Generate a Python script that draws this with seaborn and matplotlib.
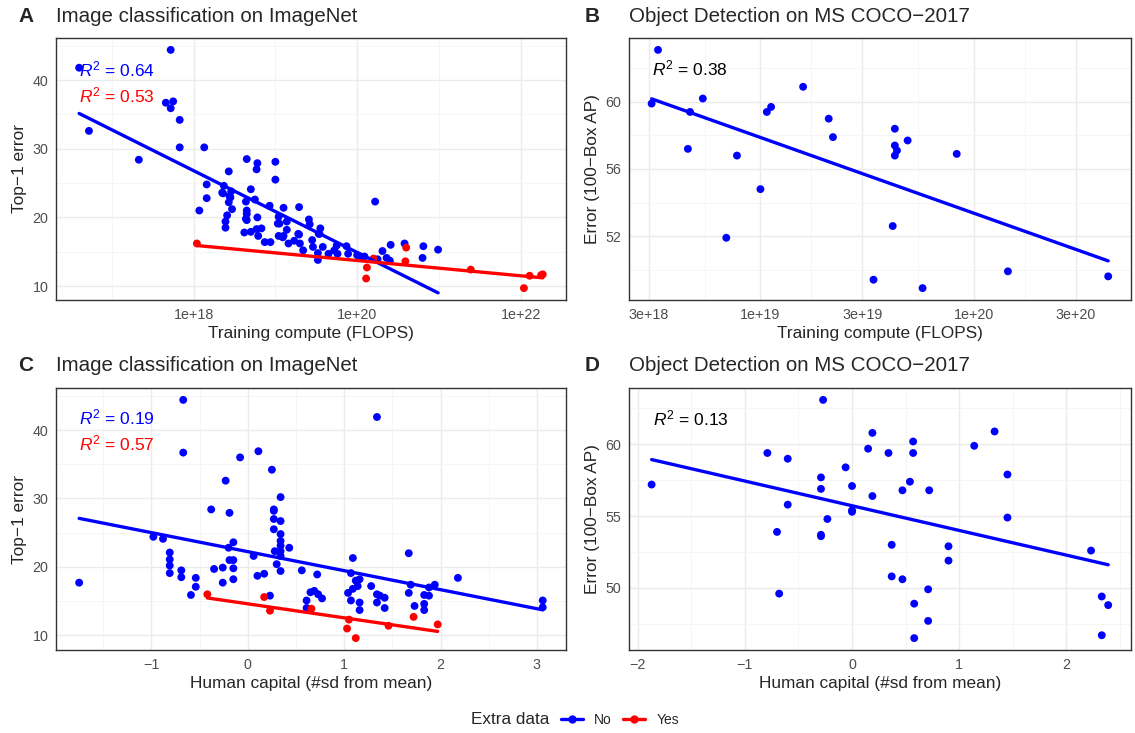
import numpy as np
import pandas as pd
import matplotlib
matplotlib.use("Agg")
import matplotlib.pyplot as plt
from matplotlib.lines import Line2D
from matplotlib.ticker import FixedLocator, FuncFormatter, NullFormatter
import seaborn as sns

# Panel A: ImageNet, log10(training compute) vs top-1 error
a_no_logc = [16.60, 17.72, 16.72, 17.33, 17.66, 17.75, 17.72, 17.83, 17.83, 18.13,
             18.16, 18.16, 18.07, 18.43, 18.37, 18.35, 18.46, 18.44, 18.43, 18.47,
             18.41, 18.39, 18.39, 18.65, 18.78, 18.77, 18.70, 18.64, 18.75, 18.65,
             18.65, 18.64, 18.78, 18.62, 18.70, 18.77, 18.83, 18.79, 18.87, 18.94,
             18.93, 19.00, 19.00, 19.10, 19.04, 19.03, 19.14, 19.04, 19.10, 19.14,
             19.16, 19.23, 19.29, 19.29, 19.30, 19.34, 19.41, 19.42, 19.45, 19.46,
             19.53, 19.55, 19.52, 19.52, 19.58, 19.65, 19.72, 19.75, 19.76, 19.87,
             19.89, 20.04, 20.09, 20.22, 20.25, 20.31, 20.36, 20.40, 20.41, 20.58,
             20.80, 20.81, 20.99,
             18.36, 18.45, 18.65, 19.09, 19.28, 19.54, 19.05, 20.00]
a_no_err = [41.8, 44.4, 32.6, 28.4, 36.7, 36.9, 35.9, 34.2, 30.2, 30.2,
            24.8, 22.8, 21.0, 26.7, 24.6, 23.6, 23.8, 23.1, 22.2, 21.2,
            20.3, 19.4, 18.5, 28.5, 27.9, 27.0, 24.1, 22.3, 22.6, 21.0,
            20.5, 19.8, 20.0, 17.8, 17.9, 18.3, 18.4, 17.3, 16.4, 16.4,
            21.7, 28.1, 25.5, 21.4, 20.1, 19.1, 19.4, 17.3, 17.3, 18.2,
            16.2, 16.6, 21.5, 17.5, 16.2, 15.2, 19.7, 19.0, 16.7, 15.7,
            17.6, 18.4, 14.8, 13.8, 15.7, 14.7, 15.2, 15.9, 14.7, 15.8,
            14.7, 14.3, 14.3, 22.3, 13.9, 15.1, 14.1, 13.7, 16.0, 16.2,
            14.1, 15.8, 15.3,
            23.5, 22.9, 19.6, 17.1, 17.6, 17.6, 19.1, 14.5]
a_yes_logc = [18.04, 20.12, 20.11, 20.20, 20.60, 20.59, 21.39, 22.04, 22.11, 22.25, 22.27]
a_yes_err = [16.2, 12.7, 11.1, 14.0, 15.6, 13.6, 12.4, 9.7, 11.5, 11.6, 11.7]

# Panel B: COCO, log10(training compute) vs error
b_logc = [18.52, 18.49, 18.67, 18.66, 18.73, 18.89, 18.84, 19.00, 19.03, 19.05, 19.20, 19.32,
          19.34, 19.53, 19.62, 19.63, 19.63, 19.64, 19.63, 19.69, 19.76, 19.92, 20.16, 20.63]
b_err = [63.1, 59.9, 59.4, 57.2, 60.2, 56.8, 51.9, 54.8, 59.4, 59.7, 60.9, 59.0,
         57.9, 49.4, 52.6, 58.4, 57.4, 57.1, 56.8, 57.7, 48.9, 56.9, 49.9, 49.6]

# Panel C: ImageNet, human capital vs top-1 error
c_no_hc = [-1.75, -0.98, -0.88, -0.81, -0.81, -0.81, -0.81, -0.69, -0.69, -0.67,
           -0.67, -0.59, -0.54, -0.54, -0.38, -0.35, -0.26, -0.26, -0.23, -0.20,
           -0.19, -0.19, -0.15, -0.15, -0.15, -0.15, -0.08, 0.06, 0.10, 0.11,
           0.17, 0.23, 0.25, 0.27, 0.27, 0.27, 0.27, 0.28, 0.30, 0.34,
           0.34, 0.34, 0.34, 0.34, 0.34, 0.34, 0.34, 0.43, 0.56, 0.61,
           0.61, 0.65, 0.69, 0.72, 0.73, 0.77, 1.04, 1.07, 1.07, 1.09,
           1.09, 1.12, 1.14, 1.16, 1.16, 1.16, 1.28, 1.34, 1.34, 1.34,
           1.37, 1.42, 1.42, 1.67, 1.67, 1.69, 1.73, 1.83, 1.83, 1.83,
           1.88, 1.88, 1.94, 2.18, 3.06, 3.06]
c_no_err = [17.7, 24.4, 24.1, 22.1, 21.1, 20.2, 19.1, 19.5, 18.5, 44.4,
            36.7, 15.9, 18.4, 17.1, 28.4, 19.7, 19.9, 17.7, 32.6, 22.8,
            27.9, 21.0, 23.6, 21.0, 19.8, 18.2, 36.0, 21.6, 18.7, 36.9,
            19.0, 15.8, 34.2, 28.4, 28.2, 27.0, 25.5, 22.3, 20.4, 30.2,
            26.7, 24.8, 23.8, 23.1, 22.3, 21.6, 19.4, 22.8, 19.5, 15.1,
            14.0, 16.3, 16.5, 18.9, 16.0, 15.4, 16.2, 19.1, 15.1, 21.3,
            16.8, 18.0, 17.2, 18.2, 14.8, 13.7, 17.2, 41.9, 16.0, 14.8,
            15.8, 15.5, 14.0, 22.0, 16.2, 17.4, 14.3, 15.9, 14.6, 13.7,
            15.8, 17.0, 17.4, 18.4, 15.1, 14.1]
c_yes_hc = [-0.42, 0.17, 0.23, 0.66, 1.03, 1.05, 1.12, 1.46, 1.72, 1.97]
c_yes_err = [16.0, 15.6, 13.6, 13.9, 11.0, 12.3, 9.6, 11.4, 12.7, 11.6]

# Panel D: COCO, human capital vs error
d_hc = [-1.87, -0.27, -0.79, -0.60, -0.60, -0.70, -0.68, -0.29, -0.29, -0.23,
        -0.29, -0.29, -0.06, 0.00, 0.00, 0.00, 0.15, 0.19, 0.19, 0.34,
        0.37, 0.37, 0.47, 0.47, 0.54, 0.57, 0.57, 0.58, 0.58, 0.72,
        0.71, 0.71, 0.90, 0.90, 1.14, 1.33, 1.45, 1.45, 2.23, 2.33,
        2.39, 2.33]
d_err = [57.2, 63.1, 59.4, 59.0, 55.8, 53.9, 49.6, 57.7, 56.9, 54.8,
         53.7, 53.6, 58.4, 57.1, 55.4, 55.3, 59.7, 60.8, 56.4, 59.4,
         53.0, 50.8, 56.8, 50.6, 57.4, 60.2, 59.4, 48.9, 46.5, 56.8,
         49.9, 47.7, 52.9, 51.9, 59.9, 60.9, 57.9, 54.9, 52.6, 49.4,
         48.8, 46.7]

r2_a = ["0.64", "0.53"]
r2_b = ["0.38"]
r2_c = ["0.19", "0.57"]
r2_d = ["0.13"]

pal = {"No": "#0000FF", "Yes": "#FF0000"}


def frame(x_no, y_no, x_yes=None, y_yes=None):
    df = pd.DataFrame({"x": x_no, "y": y_no, "extra": "No"})
    if x_yes is not None:
        df = pd.concat([df, pd.DataFrame({"x": x_yes, "y": y_yes, "extra": "Yes"})])
    return df.reset_index(drop=True)


df_a = frame(10.0 ** np.array(a_no_logc), a_no_err, 10.0 ** np.array(a_yes_logc), a_yes_err)
df_b = frame(10.0 ** np.array(b_logc), b_err)
df_c = frame(c_no_hc, c_no_err, c_yes_hc, c_yes_err)
df_d = frame(d_hc, d_err)

sns.set_style("white")
plt.rcParams["font.family"] = ["Liberation Sans", "DejaVu Sans"]
plt.rcParams["mathtext.fontset"] = "custom"
plt.rcParams["mathtext.rm"] = "Liberation Sans"
plt.rcParams["mathtext.it"] = "Liberation Sans:italic"

fig = plt.figure(figsize=(11.35, 7.33), dpi=100)
ax_a = fig.add_axes([0.0493, 0.5907, 0.4493, 0.3575])
ax_b = fig.add_axes([0.5540, 0.5907, 0.4425, 0.3575])
ax_c = fig.add_axes([0.0493, 0.1132, 0.4493, 0.3575])
ax_d = fig.add_axes([0.5540, 0.1132, 0.4425, 0.3575])


def expand(v, logx=False):
    v = np.log10(v) if logx else np.asarray(v, dtype=float)
    lo, hi = v.min(), v.max()
    pad = (hi - lo) * 0.05
    lo, hi = lo - pad, hi + pad
    return (10 ** lo, 10 ** hi) if logx else (lo, hi)


def draw(ax, df, logx):
    if logx:
        ax.set_xscale("log")
    sns.scatterplot(data=df, x="x", y="y", hue="extra", palette=pal, s=32,
                    edgecolor="none", legend=False, ax=ax, zorder=3)
    for lvl, sub in df.groupby("extra"):
        sns.regplot(data=sub, x="x", y="y", scatter=False, ci=None, logx=logx,
                    color=pal[lvl], line_kws={"lw": 2.4, "zorder": 4}, ax=ax)
    ax.set_xlim(expand(df["x"], logx))
    ax.set_ylim(expand(df["y"]))


def style(ax, xmaj, xmin, ymaj, ymin, xlabel, ylabel, xfmt=None):
    ax.xaxis.set_major_locator(FixedLocator(xmaj))
    ax.xaxis.set_minor_locator(FixedLocator(xmin))
    ax.yaxis.set_major_locator(FixedLocator(ymaj))
    ax.yaxis.set_minor_locator(FixedLocator(ymin))
    if xfmt is not None:
        ax.xaxis.set_major_formatter(xfmt)
    ax.xaxis.set_minor_formatter(NullFormatter())
    ax.yaxis.set_major_formatter(FuncFormatter(lambda v, p: f"{v:g}"))
    ax.grid(True, which="major", color="#EBEBEB", lw=1.0, zorder=0)
    ax.grid(True, which="minor", color="#F4F4F4", lw=0.6, zorder=0)
    ax.set_axisbelow(True)
    ax.tick_params(which="major", length=3.5, width=0.8, color="#333333",
                   labelsize=10.3, labelcolor="#4D4D4D", pad=2)
    ax.tick_params(which="minor", length=0)
    for sp in ax.spines.values():
        sp.set_color("#333333")
        sp.set_linewidth(1.0)
    ax.set_xlabel(xlabel, fontsize=12.4, labelpad=3)
    ax.set_ylabel(ylabel, fontsize=12.4, labelpad=4)


sci = FuncFormatter(lambda v, p: f"{v:.0e}")

draw(ax_a, df_a, True)
style(ax_a, [1e18, 1e20, 1e22], [1e17, 1e19, 1e21], [10, 20, 30, 40], [15, 25, 35, 45],
      "Training compute (FLOPS)", "Top\u22121 error", sci)

draw(ax_b, df_b, True)
b_major = [3e18, 1e19, 3e19, 1e20, 3e20]
b_minor = list(np.sqrt(np.array(b_major[:-1]) * np.array(b_major[1:])))
style(ax_b, b_major, b_minor, [52, 56, 60], [50, 54, 58, 62],
      "Training compute (FLOPS)", "Error (100\u2212Box AP)", sci)

draw(ax_c, df_c, False)
style(ax_c, [-1, 0, 1, 2, 3], [-1.5, -0.5, 0.5, 1.5, 2.5], [10, 20, 30, 40], [15, 25, 35, 45],
      "Human capital (#sd from mean)", "Top\u22121 error")

draw(ax_d, df_d, False)
style(ax_d, [-2, -1, 0, 1, 2], [-1.5, -0.5, 0.5, 1.5, 2.5], [50, 55, 60], [47.5, 52.5, 57.5, 62.5],
      "Human capital (#sd from mean)", "Error (100\u2212Box AP)")

# R^2 annotations
ax_a.text(10 ** 16.6, 41.6, f"$R^2$ = {r2_a[0]}", color=pal["No"], fontsize=12.5, va="center", zorder=5)
ax_a.text(10 ** 16.6, 37.8, f"$R^2$ = {r2_a[1]}", color=pal["Yes"], fontsize=12.5, va="center", zorder=5)
ax_b.text(10 ** 18.49, 62.0, f"$R^2$ = {r2_b[0]}", color="black", fontsize=12.5, va="center")
ax_c.text(-1.75, 41.8, f"$R^2$ = {r2_c[0]}", color=pal["No"], fontsize=12.5, va="center")
ax_c.text(-1.75, 38.0, f"$R^2$ = {r2_c[1]}", color=pal["Yes"], fontsize=12.5, va="center")
ax_d.text(-1.86, 61.8, f"$R^2$ = {r2_d[0]}", color="black", fontsize=12.5, va="center")

# panel tags and titles
titles = [("A", "Image classification on ImageNet", 0.016, 0.0493, 0.977),
          ("B", "Object Detection on MS COCO\u22122017", 0.515, 0.5540, 0.977),
          ("C", "Image classification on ImageNet", 0.016, 0.0493, 0.501),
          ("D", "Object Detection on MS COCO\u22122017", 0.515, 0.5540, 0.501)]
for tag, title, tx, x, y in titles:
    fig.text(tx, y, tag, fontsize=15, fontweight="bold", va="center")
    fig.text(x, y, title, fontsize=14.8, va="center")

# legend at bottom
fig.text(0.4837, 0.018, "Extra data", fontsize=12.3, ha="right", va="center")
handles = [Line2D([0], [0], color=pal[k], lw=2.4, marker="o", markersize=5) for k in ["No", "Yes"]]
fig.legend(handles, ["No", "Yes"], loc="center left", bbox_to_anchor=(0.494, 0.018), ncol=2,
           frameon=False, fontsize=10, handlelength=1.6, handletextpad=0.8, columnspacing=0.8,
           borderaxespad=0, borderpad=0)

fig.savefig("out.png", dpi=100, facecolor="white")
